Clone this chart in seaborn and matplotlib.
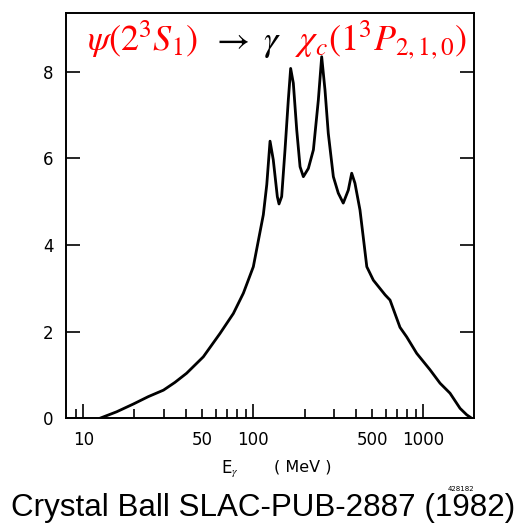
import matplotlib
matplotlib.use("Agg")
import matplotlib.pyplot as plt
import seaborn as sns
import pandas as pd
from matplotlib.offsetbox import TextArea, HPacker, AnchoredOffsetbox
from matplotlib.ticker import FixedLocator, NullFormatter

# ---- data ----
energy_mev = [12.5, 15.7, 19.7, 24.1, 29.6, 34.6, 40.5, 50.8, 63.7, 76.3, 87.4, 100.0,
              107.0, 114.5, 120.0, 125.4, 131.0, 138.4, 141.6, 146.8, 153.6, 160.6,
              165.8, 171.9, 180.0, 188.3, 196.9, 210.7, 225.6, 241.2, 252.4, 264.0,
              276.0, 295.6, 316.0, 338.0, 362.0, 379.0, 396.0, 424.0, 443.0, 465.0,
              508.0, 596.0, 637.0, 729.0, 798.0, 914.0, 1095.0, 1254.0, 1435.0,
              1644.0, 1800.0, 1928.0]
counts = [0.0, 0.15, 0.33, 0.50, 0.65, 0.83, 1.04, 1.42, 1.96, 2.42, 2.89, 3.5,
          4.1, 4.7, 5.4, 6.4, 5.97, 5.12, 4.95, 5.12, 6.2, 7.35,
          8.08, 7.74, 6.66, 5.81, 5.58, 5.77, 6.2, 7.35, 8.35, 7.58,
          6.58, 5.58, 5.2, 4.97, 5.27, 5.66, 5.43, 4.81, 4.19, 3.5,
          3.19, 2.85, 2.73, 2.1, 1.88, 1.5, 1.12, 0.81, 0.58,
          0.23, 0.08, 0.0]
x_label_ticks = [10, 50, 100, 500, 1000]
x_label_text = ["10", "50", "100", "500", "1000"]
x_major_ticks = [10, 100, 1000]
x_minor_ticks = [9, 20, 30, 40, 50, 60, 70, 80, 90, 200, 300, 400, 500, 600, 700, 800, 900]
y_ticks = [0, 2, 4, 6, 8]

df = pd.DataFrame({"E": energy_mev, "N": counts})

sns.set_style("white")
plt.rcParams["font.family"] = ["DejaVu Sans"]
plt.rcParams["mathtext.fontset"] = "stix"
plt.rcParams["text.color"] = "black"
plt.rcParams["xtick.color"] = "black"
plt.rcParams["ytick.color"] = "black"
plt.rcParams["xtick.labelcolor"] = "black"
plt.rcParams["ytick.labelcolor"] = "black"

fig = plt.figure(figsize=(5.25, 5.27), dpi=100)
ax = fig.add_axes([66 / 525, 1 - 418.3 / 527, (474 - 66) / 525, (418.3 - 13) / 527])

sns.lineplot(data=df, x="E", y="N", ax=ax, color="black", lw=2.0, sort=False)
ax.set_xscale("log")
ax.set_xlim(7.91, 1986)
ax.set_ylim(0, 9.36)
ax.set_xlabel("")
ax.set_ylabel("")

for s in ax.spines.values():
    s.set_linewidth(1.4)
    s.set_color("black")

ax.xaxis.set_major_locator(FixedLocator(x_major_ticks))
ax.xaxis.set_minor_locator(FixedLocator(x_minor_ticks))
ax.xaxis.set_major_formatter(NullFormatter())
ax.xaxis.set_minor_formatter(NullFormatter())
ax.tick_params(axis="x", which="major", direction="in", length=10, width=1.2, bottom=True, top=False)
ax.tick_params(axis="x", which="minor", direction="in", length=6.5, width=1.2, bottom=True, top=False)
for xv, t in zip(x_label_ticks, x_label_text):
    ax.annotate(t, xy=(xv, 0), xycoords=("data", "axes fraction"), xytext=(0, -9),
                textcoords="offset points", ha="center", va="top", fontsize=12, color="black")

ax.set_yticks(y_ticks)
ax.set_yticklabels([str(v) for v in y_ticks], fontsize=12, color="black")
ax.tick_params(axis="y", which="major", direction="in", length=10, width=1.2, left=True,
               right=True, pad=9)

# title with mixed colours
tp_red = dict(color="red", fontsize=26)
tp_blk = dict(color="black", fontsize=26)
parts = [TextArea(r"$\psi(2^3S_1)$", textprops=tp_red),
         TextArea(r"$\rightarrow\ \gamma$", textprops=tp_blk),
         TextArea(r"$\chi_c(1^3P_{2,1,0})$", textprops=tp_red)]
box = HPacker(children=parts, align="baseline", pad=0, sep=10)
anch = AnchoredOffsetbox(loc="center", child=box, frameon=False,
                         bbox_to_anchor=(277 / 525, 1 - 40 / 527),
                         bbox_transform=fig.transFigure, borderpad=0, pad=0)
anch.set_zorder(10)
fig.add_artist(anch)

fig.text(230 / 525, 1 - 469 / 527, r"E$_{\gamma}$", ha="center", va="center", fontsize=12)
fig.text(303 / 525, 1 - 467 / 527, "( MeV )", ha="center", va="center", fontsize=11.5)
fig.text(461 / 525, 1 - 489 / 527, "428182", ha="center", va="center", fontsize=5)
fig.text(263 / 525, 1 - 508 / 527, "Crystal Ball SLAC-PUB-2887 (1982)", ha="center",
         va="center", fontsize=22.6, family=["Liberation Sans", "DejaVu Sans"])

fig.savefig("out.png", dpi=100)
